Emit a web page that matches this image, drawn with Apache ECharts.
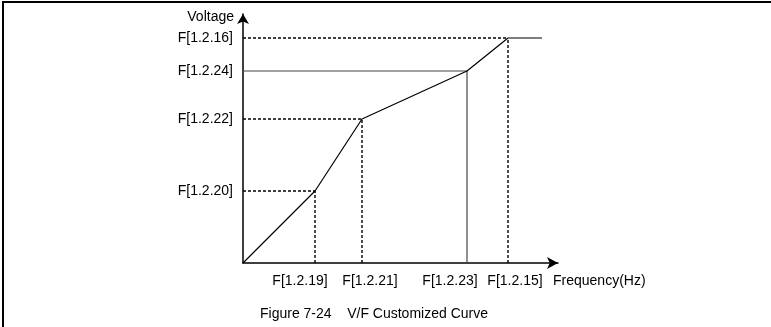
<!DOCTYPE html>
<html>
<head>
<meta charset="utf-8">
<script src="https://cdn.jsdelivr.net/npm/echarts@6/dist/echarts.min.js"></script>
<style>
  html, body { margin: 0; padding: 0; background: #fff; }
  #chart { width: 771px; height: 327px; }
</style>
</head>
<body>
<div id="chart"></div>
<script>
// V/F curve break points (frequency, voltage), arbitrary units
var freqPoints = [0, 72, 119, 224, 265, 299];
var voltPoints = [0, 72, 144, 192, 225, 225];
// guide line style for break points 1..4
var guideDashed = [true, true, false, true];

var xTickValues = [57, 127, 207, 272];
var xTickLabels = ['F[1.2.19]', 'F[1.2.21]', 'F[1.2.23]', 'F[1.2.15]'];
var yTickValues = [72, 144, 192, 225];
var yTickLabels = ['F[1.2.20]', 'F[1.2.22]', 'F[1.2.24]', 'F[1.2.16]'];

var font = 'Liberation Sans, Arial, sans-serif';

var curve = freqPoints.map(function (f, i) { return [f, voltPoints[i]]; });

var series = [{
    type: 'line',
    data: curve,
    symbol: 'none',
    lineStyle: { color: '#000', width: 1.2 },
    z: 5
}];

// guide lines down to the axes
for (var i = 1; i <= guideDashed.length; i++) {
    var f = freqPoints[i], v = voltPoints[i];
    var style = guideDashed[i - 1]
        ? { color: '#000', width: 1.4, type: [3, 2] }
        : { color: '#444', width: 1.2, type: 'solid' };
    series.push({
        type: 'line', symbol: 'none', lineStyle: style,
        data: [[0, v], [f, v]]
    });
    series.push({
        type: 'line', symbol: 'none', lineStyle: style,
        data: [[f, 0], [f, v]]
    });
}

function labelFor(values, labels) {
    return function (val) {
        var idx = values.indexOf(val);
        return idx >= 0 ? labels[idx] : '';
    };
}

var chart = echarts.init(document.getElementById('chart'));
chart.setOption({
    animation: false,
    title: {
        text: 'Figure 7-24    V/F Customized Curve',
        left: 255,
        top: 302,
        textStyle: { fontFamily: font, fontSize: 14, fontWeight: 'normal', color: '#000' }
    },
    grid: { left: 243, right: 213, top: 14, bottom: 64 },
    xAxis: {
        type: 'value',
        min: 0,
        max: 315,
        name: 'Frequency(Hz)',
        nameLocation: 'end',
        nameGap: -5,
        nameTextStyle: {
            fontFamily: font, fontSize: 14, color: '#000',
            align: 'left', verticalAlign: 'top', padding: [11, 0, 0, 0]
        },
        splitLine: { show: false },
        axisTick: { show: false },
        axisLine: {
            symbol: ['none', 'arrow'],
            symbolSize: [9, 11],
            lineStyle: { color: '#000', width: 1.5 }
        },
        axisLabel: {
            customValues: xTickValues,
            formatter: labelFor(xTickValues, xTickLabels),
            margin: 11,
            fontFamily: font, fontSize: 14, color: '#000'
        }
    },
    yAxis: {
        type: 'value',
        min: 0,
        max: 249,
        name: 'Voltage',
        nameLocation: 'end',
        nameGap: -3,
        nameTextStyle: {
            fontFamily: font, fontSize: 14, color: '#000',
            align: 'right', verticalAlign: 'middle', padding: [0, 9, 0, 0]
        },
        splitLine: { show: false },
        axisTick: { show: false },
        axisLine: {
            symbol: ['none', 'arrow'],
            symbolSize: [9, 10],
            lineStyle: { color: '#000', width: 1.5 }
        },
        axisLabel: {
            customValues: yTickValues,
            formatter: labelFor(yTickValues, yTickLabels),
            margin: 10,
            fontFamily: font, fontSize: 14, color: '#000'
        }
    },
    graphic: [
        { type: 'line', shape: { x1: 2, y1: 2, x2: 771, y2: 2 }, style: { stroke: '#000', lineWidth: 2 } },
        { type: 'line', shape: { x1: 3, y1: 2, x2: 3, y2: 327 }, style: { stroke: '#000', lineWidth: 2 } }
    ],
    series: series
});
</script>
</body>
</html>
